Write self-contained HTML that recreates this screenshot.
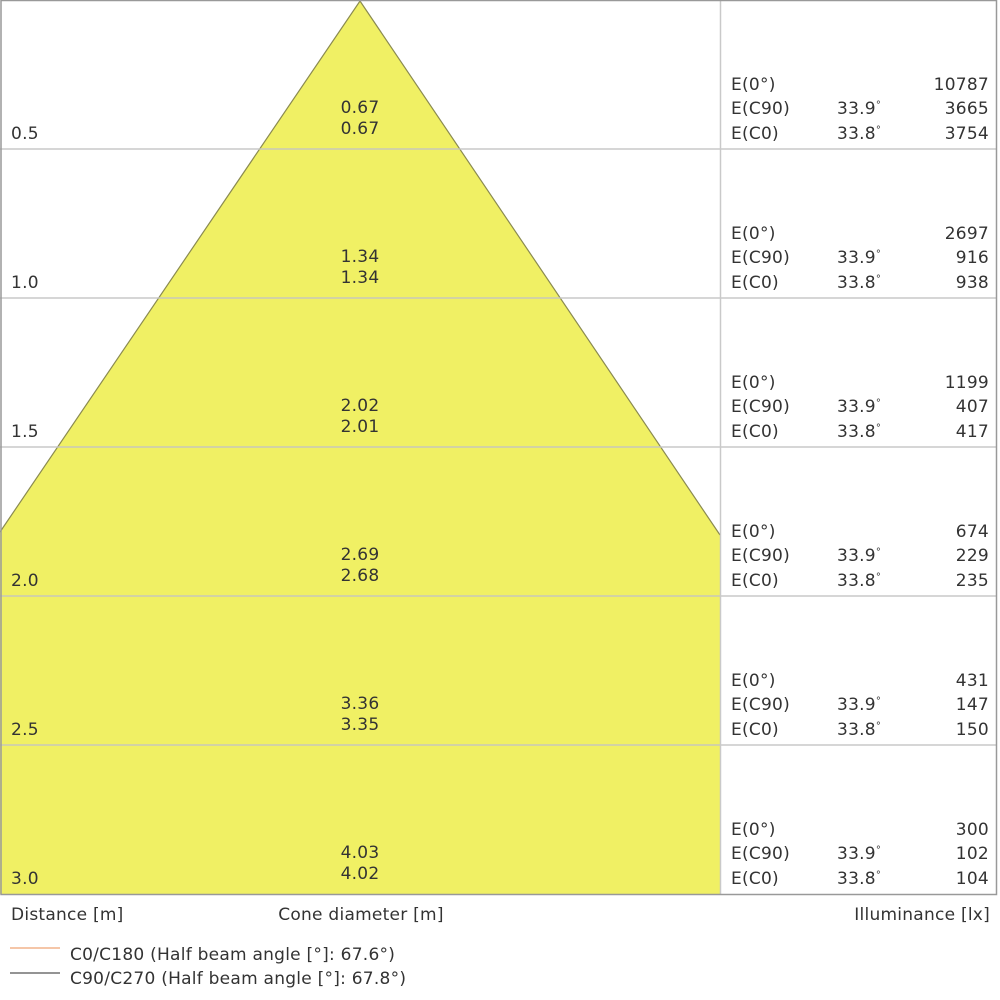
<!DOCTYPE html>
<html><head><meta charset="utf-8"><style>
html,body{margin:0;padding:0;background:#fff;}
svg{display:block;}
text{font-family:"DejaVu Sans","Liberation Sans",sans-serif;font-size:17px;fill:#333;letter-spacing:0.25px;}
</style></head><body>
<svg width="1000" height="1000" viewBox="0 0 1000 1000" xmlns="http://www.w3.org/2000/svg">
<rect x="0" y="0" width="1000" height="1000" fill="#fff"/>
<polygon points="360,1 0,532 0,894 720,894 720,535" fill="#f0f064"/>
<polyline points="0,532 360,1 720,535" fill="none" stroke="#8a8a50" stroke-width="1.2"/>
<g stroke="#c4c4c4" stroke-width="1.5" opacity="0.9">
<line x1="0" y1="149" x2="997" y2="149"/>
<line x1="0" y1="298" x2="997" y2="298"/>
<line x1="0" y1="447" x2="997" y2="447"/>
<line x1="0" y1="596" x2="997" y2="596"/>
<line x1="0" y1="745" x2="997" y2="745"/>
<line x1="720.5" y1="0" x2="720.5" y2="894"/>
</g>
<rect x="1" y="0.5" width="995.5" height="894" fill="none" stroke="#999" stroke-width="1.5"/>

<g>
<text x="11" y="139">0.5</text>
<text x="11" y="288">1.0</text>
<text x="11" y="437">1.5</text>
<text x="11" y="586">2.0</text>
<text x="11" y="735">2.5</text>
<text x="11" y="884">3.0</text>
</g>
<g text-anchor="middle">
<text x="360" y="113">0.67</text><text x="360" y="134">0.67</text>
<text x="360" y="262">1.34</text><text x="360" y="283">1.34</text>
<text x="360" y="411">2.02</text><text x="360" y="432">2.01</text>
<text x="360" y="560">2.69</text><text x="360" y="581">2.68</text>
<text x="360" y="709">3.36</text><text x="360" y="730">3.35</text>
<text x="360" y="858">4.03</text><text x="360" y="879">4.02</text>
</g>

<g>
<text x="731" y="90">E(0°)</text><text x="731" y="114">E(C90)</text><text x="731" y="139">E(C0)</text>
<text x="731" y="239">E(0°)</text><text x="731" y="263">E(C90)</text><text x="731" y="288">E(C0)</text>
<text x="731" y="388">E(0°)</text><text x="731" y="412">E(C90)</text><text x="731" y="437">E(C0)</text>
<text x="731" y="537">E(0°)</text><text x="731" y="561">E(C90)</text><text x="731" y="586">E(C0)</text>
<text x="731" y="686">E(0°)</text><text x="731" y="710">E(C90)</text><text x="731" y="735">E(C0)</text>
<text x="731" y="835">E(0°)</text><text x="731" y="859">E(C90)</text><text x="731" y="884">E(C0)</text>
</g>
<g>
<text x="837" y="114">33.9<tspan font-size="10" dy="-6">°</tspan></text><text x="837" y="139">33.8<tspan font-size="10" dy="-6">°</tspan></text>
<text x="837" y="263">33.9<tspan font-size="10" dy="-6">°</tspan></text><text x="837" y="288">33.8<tspan font-size="10" dy="-6">°</tspan></text>
<text x="837" y="412">33.9<tspan font-size="10" dy="-6">°</tspan></text><text x="837" y="437">33.8<tspan font-size="10" dy="-6">°</tspan></text>
<text x="837" y="561">33.9<tspan font-size="10" dy="-6">°</tspan></text><text x="837" y="586">33.8<tspan font-size="10" dy="-6">°</tspan></text>
<text x="837" y="710">33.9<tspan font-size="10" dy="-6">°</tspan></text><text x="837" y="735">33.8<tspan font-size="10" dy="-6">°</tspan></text>
<text x="837" y="859">33.9<tspan font-size="10" dy="-6">°</tspan></text><text x="837" y="884">33.8<tspan font-size="10" dy="-6">°</tspan></text>
</g>
<g text-anchor="end">
<text x="989" y="90">10787</text><text x="989" y="114">3665</text><text x="989" y="139">3754</text>
<text x="989" y="239">2697</text><text x="989" y="263">916</text><text x="989" y="288">938</text>
<text x="989" y="388">1199</text><text x="989" y="412">407</text><text x="989" y="437">417</text>
<text x="989" y="537">674</text><text x="989" y="561">229</text><text x="989" y="586">235</text>
<text x="989" y="686">431</text><text x="989" y="710">147</text><text x="989" y="735">150</text>
<text x="989" y="835">300</text><text x="989" y="859">102</text><text x="989" y="884">104</text>
</g>

<text x="11" y="920">Distance [m]</text>
<text x="361" y="920" text-anchor="middle">Cone diameter [m]</text>
<text x="990" y="920" text-anchor="end">Illuminance [lx]</text>

<line x1="10" y1="948" x2="60" y2="948" stroke="#f2b48c" stroke-width="1.5"/>
<line x1="10" y1="973" x2="60" y2="973" stroke="#555" stroke-width="1.2"/>
<text x="70" y="960">C0/C180 (Half beam angle [°]: 67.6°)</text>
<text x="70" y="984">C90/C270 (Half beam angle [°]: 67.8°)</text>
</svg>
</body></html>
